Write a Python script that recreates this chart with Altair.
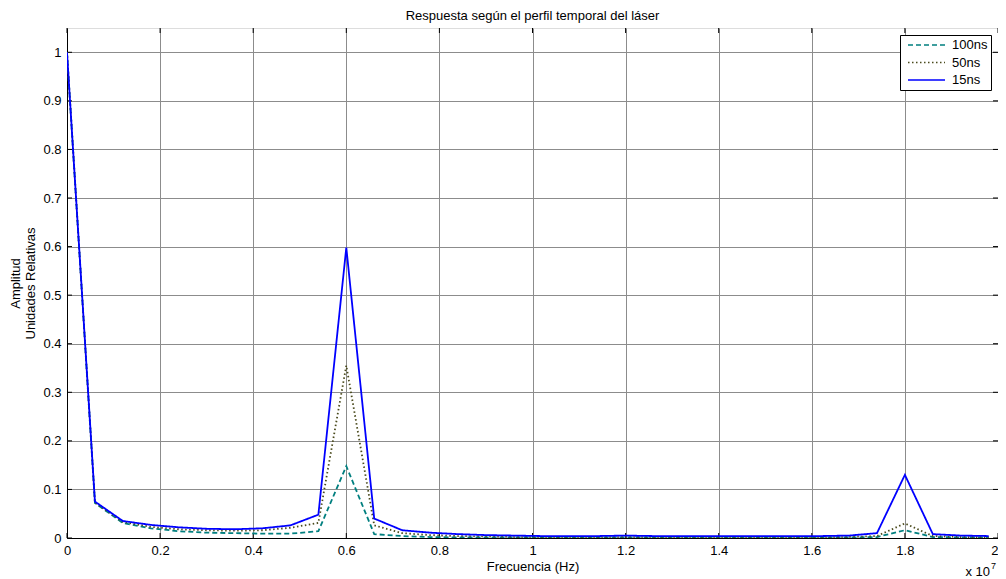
import altair as alt
import pandas as pd

# Frequency (in units of 1e7 Hz)
freq = [0.00, 0.06, 0.12, 0.18, 0.24, 0.30, 0.36, 0.42, 0.48, 0.54,
        0.60, 0.66, 0.72, 0.78, 0.84, 0.90, 0.96, 1.02, 1.08, 1.14,
        1.20, 1.26, 1.32, 1.38, 1.44, 1.50, 1.56, 1.62, 1.68, 1.74,
        1.80, 1.86, 1.92, 1.98]

amp_100ns = [1.000, 0.072, 0.031, 0.020, 0.014, 0.011, 0.010, 0.009, 0.009, 0.014,
             0.148, 0.008, 0.004, 0.002, 0.001, 0.001, 0.001, 0.001, 0.001, 0.001,
             0.001, 0.001, 0.001, 0.001, 0.001, 0.001, 0.001, 0.001, 0.001, 0.002,
             0.016, 0.002, 0.001, 0.001]

amp_50ns = [1.000, 0.073, 0.033, 0.023, 0.018, 0.016, 0.015, 0.016, 0.021, 0.031,
            0.355, 0.026, 0.010, 0.006, 0.004, 0.003, 0.002, 0.002, 0.002, 0.002,
            0.002, 0.002, 0.002, 0.002, 0.002, 0.002, 0.002, 0.002, 0.002, 0.004,
            0.030, 0.004, 0.002, 0.002]

amp_15ns = [1.000, 0.075, 0.035, 0.027, 0.022, 0.019, 0.018, 0.020, 0.026, 0.048,
            0.598, 0.040, 0.016, 0.011, 0.008, 0.006, 0.005, 0.004, 0.004, 0.004,
            0.005, 0.004, 0.004, 0.004, 0.004, 0.004, 0.004, 0.004, 0.005, 0.010,
            0.130, 0.008, 0.005, 0.004]

series_names = ["100ns", "50ns", "15ns"]
series_colors = ["#007f7f", "#4a4a1c", "#0000ff"]
series_dashes = [[5, 3], [1.5, 2.5], [1, 0]]

x_ticks = [0, 0.2, 0.4, 0.6, 0.8, 1, 1.2, 1.4, 1.6, 1.8, 2]
y_ticks = [0, 0.1, 0.2, 0.3, 0.4, 0.5, 0.6, 0.7, 0.8, 0.9, 1]

title_text = "Respuesta según el perfil temporal del láser"

FONT = "Liberation Sans"
W, H = 931, 510

rows = []
for name, vals in zip(series_names, [amp_100ns, amp_50ns, amp_15ns]):
    for f, v in zip(freq, vals):
        rows.append({"f": f, "a": v, "serie": name})
df = pd.DataFrame(rows)

xscale = alt.Scale(domain=[0, 2], nice=False, zero=False)
yscale = alt.Scale(domain=[0, 1.05], nice=False)

color = alt.Color("serie:N",
                  scale=alt.Scale(domain=series_names, range=series_colors),
                  legend=alt.Legend(title=None, orient="none", legendX=833, legendY=7,
                                    strokeColor="black", fillColor="white",
                                    padding=3, labelFont=FONT, labelFontSize=13,
                                    labelColor="black",
                                    symbolType="stroke", symbolSize=1369,
                                    symbolOffset=4,
                                    symbolStrokeWidth=1.6, clipHeight=14,
                                    rowPadding=3.5, labelOffset=6))
dash = alt.StrokeDash("serie:N",
                      scale=alt.Scale(domain=series_names, range=series_dashes),
                      legend=None)

xaxis = alt.Axis(values=x_ticks, format="~g", title="Frecuencia (Hz)",
                 grid=True, gridColor="#8c8c8c", gridWidth=1, gridOpacity=1,
                 ticks=False, labelPadding=6, labelFont=FONT, labelFontSize=13,
                 labelColor="black", titleFont=FONT, titleFontSize=13,
                 titleFontWeight="normal", titleColor="black", titlePadding=3,
                 domainColor="black", labelFlush=False,
                 labelAlign=alt.ExprRef("datum.value >= 2 ? 'right' : 'center'"))
yaxis = alt.Axis(values=y_ticks, format="~g",
                 title=["Amplitud", "Unidades Relativas"],
                 grid=True, gridColor="#8c8c8c", gridWidth=1, gridOpacity=1,
                 ticks=False, labelPadding=6, labelFont=FONT, labelFontSize=13,
                 labelColor="black", titleFont=FONT, titleFontSize=13,
                 titleFontWeight="normal", titleColor="black", titlePadding=5,
                 titleLineHeight=15, domainColor="black", labelFlush=False)

base = alt.Chart(df).mark_line(strokeWidth=1.8, clip=True).encode(
    x=alt.X("f:Q", scale=xscale, axis=xaxis),
    y=alt.Y("a:Q", scale=yscale, axis=yaxis),
    color=color,
    strokeDash=dash,
)

layers = [base.transform_filter(alt.datum.serie == n) for n in series_names]

xt = pd.DataFrame({"v": x_ticks})
yt = pd.DataFrame({"v": y_ticks})
tick_bottom = alt.Chart(xt).mark_rule(color="black", strokeWidth=1).encode(
    x=alt.X("v:Q", scale=xscale), y=alt.value(H), y2=alt.value(H - 5))
tick_top = alt.Chart(xt).mark_rule(color="black", strokeWidth=1).encode(
    x=alt.X("v:Q", scale=xscale), y=alt.value(0), y2=alt.value(5))
tick_left = alt.Chart(yt).mark_rule(color="black", strokeWidth=1).encode(
    y=alt.Y("v:Q", scale=yscale), x=alt.value(0), x2=alt.value(5))
tick_right = alt.Chart(yt).mark_rule(color="black", strokeWidth=1).encode(
    y=alt.Y("v:Q", scale=yscale), x=alt.value(W), x2=alt.value(W - 5))

one = pd.DataFrame({"t": [title_text]})
title_mark = alt.Chart(one).mark_text(font=FONT, fontSize=13, align="center",
                                      baseline="alphabetic", color="black").encode(
    x=alt.value(W / 2), y=alt.value(-8), text="t:N")
exp_base = alt.Chart(one).mark_text(font=FONT, fontSize=13, align="right",
                                    baseline="middle", color="black").encode(
    x=alt.value(923), y=alt.value(544), text=alt.value("x 10"))
exp_sup = alt.Chart(one).mark_text(font=FONT, fontSize=9, align="left",
                                   baseline="middle", color="black").encode(
    x=alt.value(924), y=alt.value(538), text=alt.value("7"))

chart = alt.layer(
    tick_bottom, tick_top, tick_left, tick_right,
    *layers, title_mark, exp_base, exp_sup
).properties(
    width=W, height=H,
    autosize=alt.AutoSizeParams(type="none"),
    padding={"left": 59, "top": 20, "right": 0, "bottom": 41},
).configure_view(stroke="black", strokeWidth=1).configure(background="white")

chart.save("out.html", embed_options={"renderer": "svg", "actions": False})
